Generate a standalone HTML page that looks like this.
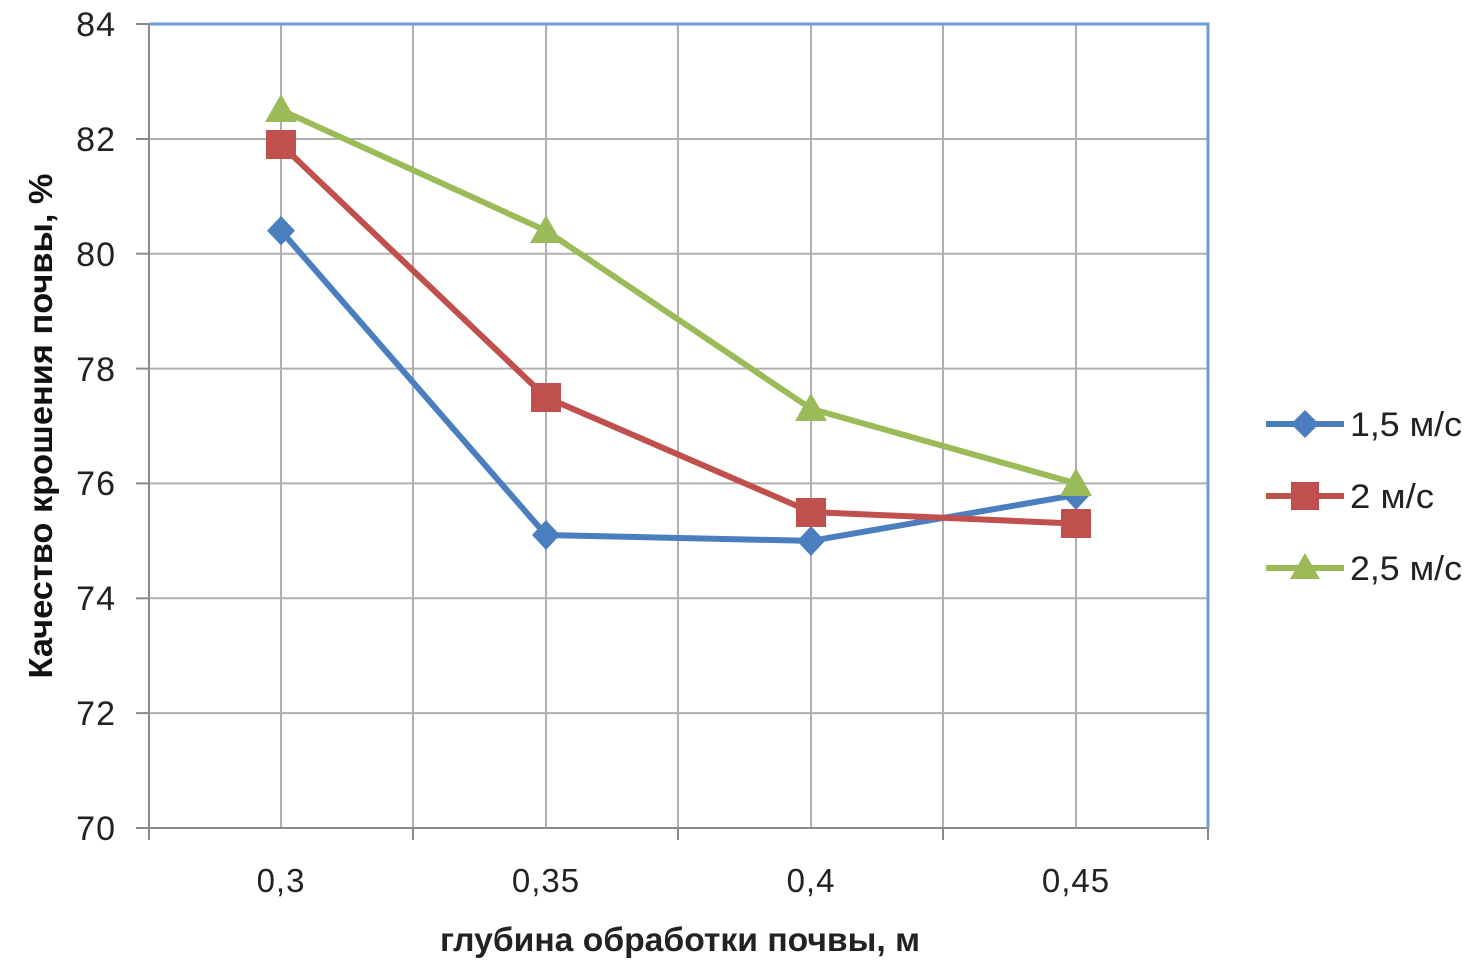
<!DOCTYPE html>
<html><head><meta charset="utf-8"><style>body{margin:0;background:#fff}svg{display:block}</style></head><body>
<svg width="1479" height="978" xmlns="http://www.w3.org/2000/svg" font-family="'Liberation Sans','DejaVu Sans',sans-serif">
<g stroke="#b0b0b0" stroke-width="2">
<line x1="149" y1="139" x2="1208" y2="139"/><line x1="149" y1="253.7" x2="1208" y2="253.7"/><line x1="149" y1="368.6" x2="1208" y2="368.6"/><line x1="149" y1="483.4" x2="1208" y2="483.4"/><line x1="149" y1="598.3" x2="1208" y2="598.3"/><line x1="149" y1="713.1" x2="1208" y2="713.1"/>
<line x1="281" y1="24" x2="281" y2="828"/><line x1="413" y1="24" x2="413" y2="828"/><line x1="546" y1="24" x2="546" y2="828"/><line x1="678" y1="24" x2="678" y2="828"/><line x1="811" y1="24" x2="811" y2="828"/><line x1="943" y1="24" x2="943" y2="828"/><line x1="1076" y1="24" x2="1076" y2="828"/>
</g>
<g stroke="#8a8a8a" stroke-width="2">
<line x1="149" y1="24" x2="149" y2="840"/><line x1="136" y1="828" x2="1208" y2="828"/>
<line x1="136" y1="24" x2="149" y2="24"/><line x1="136" y1="139" x2="149" y2="139"/><line x1="136" y1="253.7" x2="149" y2="253.7"/><line x1="136" y1="368.6" x2="149" y2="368.6"/><line x1="136" y1="483.4" x2="149" y2="483.4"/><line x1="136" y1="598.3" x2="149" y2="598.3"/><line x1="136" y1="713.1" x2="149" y2="713.1"/>
<line x1="413" y1="828" x2="413" y2="840"/><line x1="678" y1="828" x2="678" y2="840"/><line x1="943" y1="828" x2="943" y2="840"/><line x1="1208" y1="828" x2="1208" y2="840"/>
</g>
<polyline points="149,24 1208,24 1208,828" fill="none" stroke="#6f9bd8" stroke-width="3"/>
<g font-size="34" fill="#222" text-anchor="end" letter-spacing="1">
<text x="116" y="36">84</text><text x="116" y="151">82</text><text x="116" y="266">80</text><text x="116" y="381">78</text><text x="116" y="495">76</text><text x="116" y="610">74</text><text x="116" y="725">72</text><text x="116" y="840">70</text>
</g>
<g font-size="33" fill="#222" text-anchor="middle" letter-spacing="1">
<text x="281" y="892">0,3</text><text x="546" y="892">0,35</text><text x="811" y="892">0,4</text><text x="1076" y="892">0,45</text>
</g>
<text x="680" y="951" font-size="33" font-weight="bold" fill="#222" text-anchor="middle" textLength="480" lengthAdjust="spacingAndGlyphs">глубина обработки почвы, м</text>
<text transform="translate(52,426) rotate(-90)" font-size="33" font-weight="bold" fill="#111" text-anchor="middle" textLength="505" lengthAdjust="spacingAndGlyphs">Качество крошения почвы, %</text>
<polyline points="281,230.7 546,535 811,540.9 1076,494.9" fill="none" stroke="#4a7ebf" stroke-width="6"/>
<polyline points="281,144.6 546,397.3 811,512 1076,523.6" fill="none" stroke="#c0504d" stroke-width="6"/>
<polyline points="281,110 546,230.7 811,408.8 1076,483.4" fill="none" stroke="#9bbb59" stroke-width="6"/>
<g fill="#4a7ebf">
<path d="M281,216 l14,14.7 -14,14.7 -14,-14.7z"/><path d="M546,520 l14,15 -14,15 -14,-15z"/><path d="M811,526 l14,15 -14,15 -14,-15z"/><path d="M1076,480 l14,15 -14,15 -14,-15z"/>
</g>
<g fill="#c0504d">
<rect x="266" y="130" width="30" height="29"/><rect x="531" y="383" width="30" height="29"/><rect x="796" y="498" width="30" height="29"/><rect x="1061" y="509" width="30" height="29"/>
</g>
<g fill="#9bbb59">
<path d="M281,94 l16,28 h-32z"/><path d="M546,215 l16,28 h-32z"/><path d="M811,393 l16,28 h-32z"/><path d="M1076,468 l16,28 h-32z"/>
</g>
<g stroke-width="6">
<line x1="1266" y1="424" x2="1344" y2="424" stroke="#4a7ebf"/><line x1="1266" y1="496" x2="1344" y2="496" stroke="#c0504d"/><line x1="1266" y1="568" x2="1344" y2="568" stroke="#9bbb59"/>
</g>
<path d="M1305,410 l14,14 -14,14 -14,-14z" fill="#4a7ebf"/>
<rect x="1291" y="482" width="28" height="28" fill="#c0504d"/>
<path d="M1305,553 l15,26 h-30z" fill="#9bbb59"/>
<g font-size="34" fill="#222">
<text x="1350" y="436" textLength="112" lengthAdjust="spacingAndGlyphs">1,5 м/с</text><text x="1350" y="508" textLength="84" lengthAdjust="spacingAndGlyphs">2 м/с</text><text x="1350" y="580" textLength="112" lengthAdjust="spacingAndGlyphs">2,5 м/с</text>
</g>
</svg>
</body></html>
